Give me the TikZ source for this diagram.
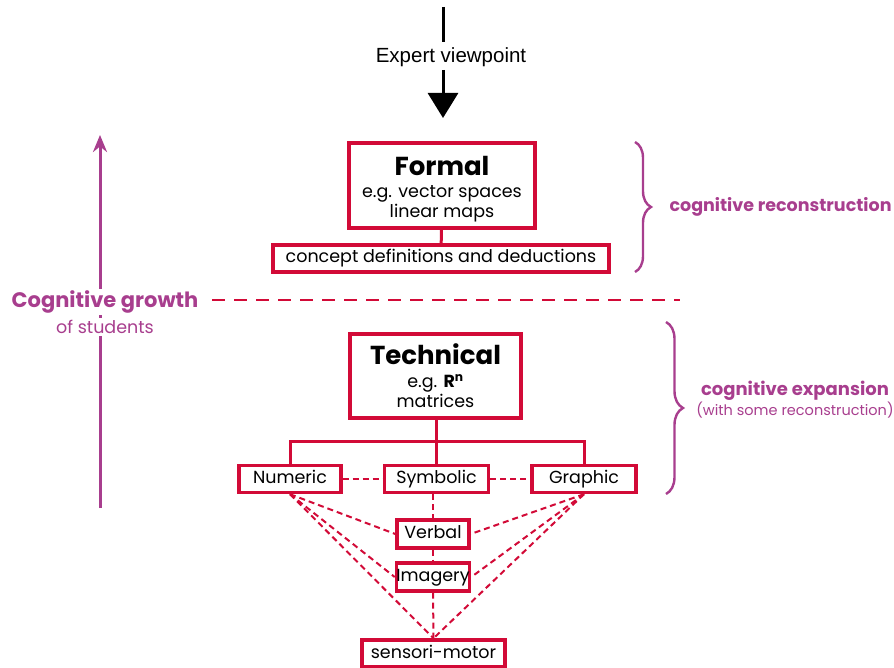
\documentclass[tikz,border=0pt]{standalone}
\usepackage{fontspec}
\setmainfont{Poppins}
\newfontfamily\helv{Liberation Sans}
\usetikzlibrary{arrows.meta,decorations.pathreplacing}

\definecolor{boxred}{RGB}{210,10,55}
\definecolor{growthpurple}{RGB}{168,62,142}

\tikzset{
    levelbox/.style={draw=boxred,line width=3.4pt,align=center,inner sep=0pt},
    smallbox/.style={levelbox,minimum height=27pt,text height=13pt,text depth=4pt,
        font=\fontsize{17.5}{20}\selectfont},
    link/.style={boxred,line width=3pt},
    dashlink/.style={boxred,line width=2pt,dash pattern=on 6pt off 4pt},
    sidebrace/.style={growthpurple,line width=2.4pt,decorate,decoration={brace,amplitude=#1}},
    purpletext/.style={text=growthpurple}
}

\begin{document}
\begin{tikzpicture}[x=1pt,y=-1pt,>=Stealth]
    \useasboundingbox (0,0) rectangle (894,668);

    % Expert viewpoint
    \coordinate (top) at (443,7);
    \node[font=\helv\fontsize{20.5}{22}\selectfont] (expert) at (451,57) {Expert viewpoint};
    \draw[line width=3pt] (top) -- (443,42);
    \draw[-{Triangle[width=30pt,length=25pt]},line width=3pt,shorten >=25pt]
        (443,70) -- (443,143);

    % Formal level
    \node[levelbox,minimum width=186pt,minimum height=85pt,font=\fontsize{17.5}{20}\selectfont] (formal) at (442,185.5)
        {\rule{0pt}{27pt}{\fontsize{26}{28}\selectfont\bfseries Formal}\\[2pt]
         e.g. vector spaces\\
         linear maps};
    \node[smallbox,minimum width=336pt] (concept) at (441,258.5)
        {concept definitions and deductions};
    \draw[link] (formal) -- (concept);

    % Braces
    \draw[sidebrace=16pt] (635,142) -- (635,272)
        node[midway,right=30pt,anchor=west,purpletext,font=\fontsize{17.5}{20}\selectfont\bfseries] (recon)
        {cognitive reconstruction};
    \draw[sidebrace=17pt] (666,322) -- (666,494)
        coordinate[midway] (expmid);
    \node[purpletext,font=\fontsize{18}{20}\selectfont\bfseries] (expand) at (795,391)
        {cognitive expansion};
    \node[purpletext,font=\fontsize{14.5}{16}\selectfont] (expnote) at (795,410)
        {(with some reconstruction)};

    % Cognitive growth
    \draw[growthpurple,line width=3pt,-{Stealth[length=17pt,width=14pt]}]
        (100,508) -- (100,135);
    \node[purpletext,fill=white,inner sep=2pt,font=\fontsize{21}{24}\selectfont\bfseries] (growth)
        at (105,302) {Cognitive growth};
    \node[purpletext,fill=white,inner sep=2pt,font=\fontsize{17.5}{20}\selectfont] (students)
        at (105,327) {of students};
    \coordinate (cutstart) at (212,300);
    \coordinate (cutend) at (680,300);
    \draw[boxred,line width=2.6pt,dash pattern=on 13pt off 9pt] (cutstart) -- (cutend);

    % Technical level
    \node[levelbox,minimum width=171pt,minimum height=84pt,font=\fontsize{17.5}{20}\selectfont] (technical) at (435.5,376)
        {{\fontsize{26}{28}\selectfont\bfseries Technical}\\[3pt]
         e.g. $\mathbf{R}^{\mathbf{n}}$\\
         matrices};

    \node[smallbox,minimum width=102pt] (numeric) at (290,479) {Numeric};
    \node[smallbox,minimum width=104pt] (symbolic) at (436.5,479) {Symbolic};
    \node[smallbox,minimum width=104pt] (graphic) at (584,479) {Graphic};

    \coordinate (fork) at (436.5,441);
    \draw[link] (technical.south -| fork) -- (fork);
    \draw[link] (numeric.north) |- (fork) -| (graphic.north);
    \draw[link] (fork) -- (symbolic);

    % Lower levels
    \node[smallbox,minimum width=72pt,minimum height=28pt] (verbal) at (433,534) {Verbal};
    \node[smallbox,minimum width=72pt,minimum height=28pt] (imagery) at (433,577) {Imagery};
    \node[smallbox,minimum width=143pt] (sensori) at (433.5,653.5) {sensori-motor};

    \draw[dashlink] (numeric) -- (symbolic);
    \draw[dashlink] (symbolic) -- (graphic);
    \draw[dashlink] (symbolic.south -| verbal) -- (verbal);
    \draw[dashlink] (verbal) -- (imagery);
    \draw[dashlink] (imagery) -- (sensori);

    \foreach \side/\tip in {numeric/west,graphic/east} {
        \draw[dashlink] (\side.south) -- (verbal.\tip);
        \draw[dashlink] (\side.south) -- (imagery.\tip);
        \draw[dashlink] (\side.south) -- (sensori.north);
    }
\end{tikzpicture}
\end{document}
